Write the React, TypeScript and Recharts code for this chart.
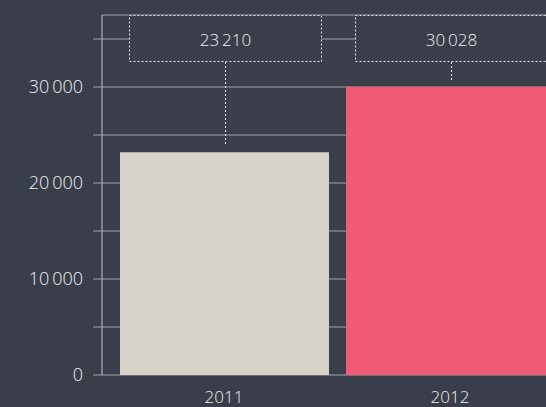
import { BarChart, Bar, XAxis, YAxis, CartesianGrid, Cell, LabelList } from "recharts";

const years = ["2011", "2012"];
const totals = [23210, 30028];
const yTicks = [0, 5000, 10000, 15000, 20000, 25000, 30000, 35000];
const yLabelled = [0, 10000, 20000, 30000];

const BG = "#3a3e4a";
const GRID = "#a2a4a9";
const TEXT = "#f0f0f0";
const barColors = ["#d5d3c7", "#f05a73"];
const FONT = "'Open Sans', sans-serif";
const PLOT_TOP = 15;

const data = years.map((year, i) => ({ year, total: totals[i] }));

// thin space between thousands, like the original
const fmt = (v: number) => String(v).replace(/\B(?=(\d{3})+(?!\d))/g, "\u2009");

function ValueBox(props: any) {
  const { x, y, width, value } = props;
  const cx = Math.round(x + width / 2) + 0.5;
  const w = 192;
  const h = 46;
  return (
    <g>
      <rect
        x={cx - w / 2}
        y={PLOT_TOP + 0.5}
        width={w}
        height={h}
        fill={BG}
        stroke="#e2e2e2"
        strokeDasharray="2 2"
      />
      <line x1={cx} x2={cx} y1={PLOT_TOP + h + 1} y2={y - 6} stroke="#e2e2e2" strokeDasharray="2 2" />
      <text
        x={cx}
        y={PLOT_TOP + h / 2 + 1}
        textAnchor="middle"
        dominantBaseline="central"
        fill={TEXT}
        fontSize={17}
        fontWeight={300}
        fontFamily={FONT}
      >
        {fmt(value)}
      </text>
    </g>
  );
}

export default function App() {
  return (
    <div
      style={{
        position: "fixed",
        left: 0,
        top: 0,
        width: 546,
        height: 407,
        overflow: "hidden",
        background: BG,
      }}
    >
      <BarChart
        width={563}
        height={407}
        data={data}
        margin={{ top: PLOT_TOP, right: 0, bottom: 0, left: 0 }}
      >
        <CartesianGrid vertical={false} stroke={GRID} />
        <XAxis
          dataKey="year"
          height={32}
          padding={{ left: 9, right: 0 }}
          axisLine={false}
          tickLine={false}
          tickSize={6}
          tickMargin={10}
          tick={{ fill: TEXT, fontSize: 17, fontWeight: 300, fontFamily: FONT }}
        />
        <YAxis
          width={102}
          domain={[0, 37500]}
          ticks={yTicks}
          interval={0}
          tickSize={9}
          tickMargin={10}
          axisLine={{ stroke: "#c6c7cb" }}
          tickLine={{ stroke: GRID }}
          tickFormatter={(v: number) => (yLabelled.includes(v) ? fmt(v) : "")}
          tick={{ fill: TEXT, fontSize: 18, fontWeight: 300, fontFamily: FONT }}
        />
        <Bar dataKey="total" barSize={209} isAnimationActive={false}>
          {data.map((d, i) => (
            <Cell key={d.year} fill={barColors[i]} />
          ))}
          <LabelList dataKey="total" content={ValueBox} />
        </Bar>
      </BarChart>
    </div>
  );
}
